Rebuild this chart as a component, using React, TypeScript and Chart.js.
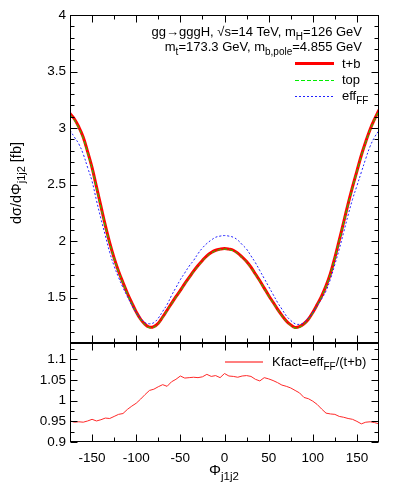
import React, { useEffect, useRef } from 'react';
import { Chart, registerables } from 'chart.js';

Chart.register(...registerables);

// ---------- data ----------
const PHI = [
  -175, -170, -165, -160, -155, -150, -145, -140, -135, -130, -125, -120, -115, -110, -105, -100,
  -95, -90, -85, -80, -75, -70, -65, -60, -55, -50, -45, -40, -35, -30, -25, -20, -15, -10, -5,
  0, 5, 10, 15, 20, 25, 30, 35, 40, 45, 50, 55, 60, 65, 70, 75, 80, 85, 90, 95, 100, 105, 110,
  115, 120, 125, 130, 135, 140, 145, 150, 155, 160, 165, 170, 175,
];

const T_PLUS_B = [
  3.13, 3.08, 3.01, 2.92, 2.79, 2.65, 2.48, 2.31, 2.14, 1.985, 1.85, 1.735, 1.635, 1.54, 1.455, 1.375,
  1.31, 1.265, 1.24, 1.245, 1.275, 1.33, 1.39, 1.45, 1.51, 1.565, 1.625, 1.68, 1.735, 1.785, 1.83,
  1.87, 1.9, 1.92, 1.93,
  1.935, 1.93, 1.92, 1.895, 1.86, 1.82, 1.77, 1.71, 1.65, 1.585, 1.52, 1.46, 1.4, 1.345, 1.295,
  1.26, 1.237, 1.245, 1.27, 1.31, 1.37, 1.44, 1.515, 1.605, 1.715, 1.855, 2.01, 2.17, 2.33, 2.48,
  2.62, 2.76, 2.88, 2.99, 3.08, 3.16,
];

const TOP_ONLY = [
  3.12, 3.07, 3.0, 2.91, 2.78, 2.64, 2.47, 2.3, 2.13, 1.98, 1.845, 1.73, 1.63, 1.535, 1.45,
  1.37, 1.305, 1.26, 1.235, 1.24, 1.27, 1.325, 1.385, 1.445, 1.505, 1.56, 1.62, 1.675, 1.73, 1.78,
  1.825, 1.865, 1.895, 1.915, 1.925,
  1.93, 1.925, 1.915, 1.89, 1.855, 1.815, 1.765, 1.705, 1.645, 1.58, 1.515, 1.455, 1.395, 1.34,
  1.29, 1.255, 1.232, 1.24, 1.265, 1.305, 1.365, 1.435, 1.51, 1.6, 1.71, 1.85, 2.005, 2.165, 2.325,
  2.475, 2.615, 2.755, 2.875, 2.985, 3.075, 3.155,
];

const EFF_FF = [
  2.98, 2.92, 2.86, 2.77, 2.65, 2.53, 2.36, 2.2, 2.05, 1.9, 1.78, 1.68, 1.59, 1.51, 1.435, 1.37,
  1.32, 1.28, 1.27, 1.28, 1.32, 1.38, 1.44, 1.52, 1.59, 1.66, 1.72, 1.78, 1.83, 1.89, 1.94, 1.98,
  2.01, 2.035, 2.045,
  2.05, 2.045, 2.035, 2.01, 1.97, 1.93, 1.87, 1.81, 1.74, 1.67, 1.6, 1.53, 1.46, 1.4, 1.34, 1.3,
  1.27, 1.265, 1.28, 1.32, 1.37, 1.43, 1.49, 1.56, 1.665, 1.795, 1.93, 2.08, 2.23, 2.37, 2.49, 2.61,
  2.73, 2.84, 2.92, 2.98,
];

const KFACT = [
  0.951, 0.948, 0.949, 0.948, 0.951, 0.955, 0.951, 0.954, 0.958, 0.957, 0.962, 0.967, 0.969, 0.979,
  0.987, 0.994, 1.004, 1.015, 1.025, 1.028, 1.034, 1.039, 1.035, 1.046, 1.052, 1.06, 1.055, 1.056,
  1.057, 1.056, 1.058, 1.064, 1.059, 1.061, 1.056,
  1.066, 1.06, 1.059, 1.057, 1.06, 1.061, 1.059, 1.052, 1.048, 1.056, 1.053, 1.049, 1.044, 1.038,
  1.035, 1.031, 1.025, 1.019, 1.008, 1.005, 0.999, 0.991, 0.98, 0.97, 0.968, 0.967, 0.962, 0.96,
  0.957, 0.955, 0.95, 0.944, 0.948, 0.949, 0.947, 0.944,
];

const X_RANGE = [-175, 175];
const X_TICKS = [-150, -100, -50, 0, 50, 100, 150];
const X_MINOR = [-125, -75, -25, 25, 75, 125];
const Y_TOP_RANGE = [1.1, 4];
const Y_TOP_TICKS = [1.5, 2, 2.5, 3, 3.5, 4];
const Y_TOP_MINOR = [1.2, 1.3, 1.4, 1.6, 1.7, 1.8, 1.9, 2.1, 2.2, 2.3, 2.4, 2.6, 2.7, 2.8, 2.9, 3.1, 3.2, 3.3, 3.4, 3.6, 3.7, 3.8, 3.9];
const Y_BOT_RANGE = [0.9, 1.14];
const Y_BOT_TICKS = [0.9, 0.95, 1, 1.05, 1.1];
const Y_BOT_MINOR = [0.925, 0.975, 1.025, 1.075, 1.125];

// ---------- text ----------
type Seg = { t: string; sub?: boolean };
const ANNOT_1: Seg[] = [{ t: 'gg→gggH, √s=14 TeV, m' }, { t: 'H', sub: true }, { t: '=126 GeV' }];
const ANNOT_2: Seg[] = [{ t: 'm' }, { t: 't', sub: true }, { t: '=173.3 GeV, m' }, { t: 'b,pole', sub: true }, { t: '=4.855 GeV' }];
const LEG_TB: Seg[] = [{ t: 't+b' }];
const LEG_TOP: Seg[] = [{ t: 'top' }];
const LEG_EFF: Seg[] = [{ t: 'eff' }, { t: 'FF', sub: true }];
const LEG_K: Seg[] = [{ t: 'Kfact=eff' }, { t: 'FF', sub: true }, { t: '/(t+b)' }];
const Y_TITLE: Seg[] = [{ t: 'dσ/dΦ' }, { t: 'j1j2', sub: true }, { t: ' [fb]' }];
const X_TITLE: Seg[] = [{ t: 'Φ' }, { t: 'j1j2', sub: true }];

const FAMILY = '"Liberation Sans", Arial, Helvetica, sans-serif';
const W = 398;
const H = 491;
const TOP_AREA_BOTTOM = 343;
const BOT_AREA_BOTTOM = 442;
const K_COLOR = '#ff0000';

const fnt = (s: number) => `${s}px ${FAMILY}`;

function drawRich(ctx: CanvasRenderingContext2D, segs: Seg[], x: number, y: number, align: 'left' | 'right' | 'center', size: number, subSize: number, subDy: number) {
  let w = 0;
  for (const s of segs) {
    ctx.font = fnt(s.sub ? subSize : size);
    w += ctx.measureText(s.t).width;
  }
  let cx = align === 'left' ? x : align === 'right' ? x - w : x - w / 2;
  ctx.textAlign = 'left';
  ctx.textBaseline = 'alphabetic';
  ctx.fillStyle = '#000';
  for (const s of segs) {
    ctx.font = fnt(s.sub ? subSize : size);
    ctx.fillText(s.t, cx, s.sub ? y + subDy : y);
    cx += ctx.measureText(s.t).width;
  }
}

function framePlugin(xMinor: number[], xMajor: number[], yMajor: number[], yMinor: number[]) {
  return {
    id: 'frameTicks',
    afterDatasetsDraw(chart: any) {
      const { ctx, chartArea: a, scales } = chart;
      ctx.save();
      ctx.strokeStyle = '#000';
      ctx.lineWidth = 1;
      ctx.setLineDash([]);
      const L = Math.round(a.left) + 0.5;
      const R = Math.round(a.right) - 0.5;
      const T = Math.round(a.top) + 0.5;
      const B = Math.round(a.bottom) - 0.5;
      ctx.strokeRect(L, T, R - L, B - T);
      ctx.beginPath();
      const xt = (v: number, len: number) => {
        const p = Math.round(scales.x.getPixelForValue(v)) + 0.5;
        ctx.moveTo(p, B); ctx.lineTo(p, B - len);
        ctx.moveTo(p, T); ctx.lineTo(p, T + len);
      };
      const yt = (v: number, len: number) => {
        const p = Math.round(scales.y.getPixelForValue(v)) + 0.5;
        ctx.moveTo(L, p); ctx.lineTo(L + len, p);
        ctx.moveTo(R, p); ctx.lineTo(R - len, p);
      };
      xMajor.forEach((v) => xt(v, 7));
      xMinor.forEach((v) => xt(v, 4));
      yMajor.forEach((v) => yt(v, 7));
      yMinor.forEach((v) => yt(v, 4));
      ctx.stroke();
      ctx.restore();
    },
  };
}

const topTextPlugin = {
  id: 'topText',
  afterDraw(chart: any) {
    const ctx: CanvasRenderingContext2D = chart.ctx;
    ctx.save();
    drawRich(ctx, ANNOT_1, 362, 36, 'right', 13, 10, 4);
    drawRich(ctx, ANNOT_2, 362, 51, 'right', 13, 10, 4);
    // legend
    const lx0 = 295, lx1 = 334, tx = 342;
    ctx.lineCap = 'butt';
    ctx.beginPath(); ctx.strokeStyle = '#ff0000'; ctx.lineWidth = 3; ctx.setLineDash([]);
    ctx.moveTo(lx0, 63.5); ctx.lineTo(lx1, 63.5); ctx.stroke();
    drawRich(ctx, LEG_TB, tx, 68, 'left', 13, 10, 4);
    ctx.beginPath(); ctx.strokeStyle = '#00ee00'; ctx.lineWidth = 1; ctx.setLineDash([4, 2]);
    ctx.moveTo(lx0, 80.5); ctx.lineTo(lx1, 80.5); ctx.stroke();
    drawRich(ctx, LEG_TOP, tx, 84, 'left', 13, 10, 4);
    ctx.beginPath(); ctx.strokeStyle = '#2020ff'; ctx.lineWidth = 1; ctx.setLineDash([2, 2]);
    ctx.moveTo(lx0, 96.5); ctx.lineTo(lx1, 96.5); ctx.stroke();
    ctx.setLineDash([]);
    drawRich(ctx, LEG_EFF, tx, 100, 'left', 13, 10, 4);
    // y title
    ctx.translate(21, 183);
    ctx.rotate(-Math.PI / 2);
    drawRich(ctx, Y_TITLE, 0, 0, 'center', 14.5, 11, 4);
    ctx.restore();
  },
};

const botTextPlugin = {
  id: 'botText',
  afterDraw(chart: any) {
    const ctx: CanvasRenderingContext2D = chart.ctx;
    ctx.save();
    ctx.beginPath();
    ctx.strokeStyle = K_COLOR;
    ctx.lineWidth = 1.2;
    ctx.setLineDash([]);
    ctx.moveTo(225, 362);
    ctx.lineTo(263, 362);
    ctx.stroke();
    drawRich(ctx, LEG_K, 272, 366, 'left', 13, 10, 4);
    drawRich(ctx, X_TITLE, 224, 475, 'center', 15, 11.5, 5);
    ctx.restore();
  },
};

const tickFont = { family: FAMILY, size: 13.5 };

function yScale(range: number[], ticks: number[]) {
  return {
    type: 'linear',
    min: range[0],
    max: range[1],
    afterBuildTicks: (s: any) => { s.ticks = ticks.map((v) => ({ value: v })); },
    afterFit: (s: any) => { s.width = 70; },
    ticks: { font: tickFont, color: '#000', padding: 4, callback: (v: any) => String(v) },
    grid: { display: false, drawTicks: false },
    border: { display: false },
  };
}

export default function App() {
  const topRef = useRef<HTMLCanvasElement>(null);
  const botRef = useRef<HTMLCanvasElement>(null);

  useEffect(() => {
    const pts = (ys: number[]) => PHI.map((x, i) => ({ x, y: ys[i] }));
    const top = new Chart(topRef.current!, {
      type: 'line',
      data: {
        datasets: [
          { label: 't+b', data: pts(T_PLUS_B), borderColor: '#ff0000', borderWidth: 3, pointRadius: 0, order: 3, tension: 0.4, fill: false },
          { label: 'top', data: pts(TOP_ONLY), borderColor: '#00ee00', borderWidth: 1, borderDash: [4, 2], pointRadius: 0, order: 2, tension: 0.4, fill: false },
          { label: 'eff_FF', data: pts(EFF_FF), borderColor: '#2020ff', borderWidth: 1, borderDash: [2, 2], pointRadius: 0, order: 1, tension: 0.4, fill: false },
        ],
      },
      options: {
        animation: false,
        responsive: false,
        events: [],
        layout: { padding: { left: 0, top: 15, right: W - 379, bottom: H - TOP_AREA_BOTTOM } },
        plugins: { legend: { display: false }, tooltip: { enabled: false } },
        scales: {
          x: { type: 'linear', display: false, min: X_RANGE[0], max: X_RANGE[1] },
          y: yScale(Y_TOP_RANGE, Y_TOP_TICKS),
        },
      } as any,
      plugins: [framePlugin(X_MINOR, X_TICKS, Y_TOP_TICKS, Y_TOP_MINOR), topTextPlugin],
    });

    const bot = new Chart(botRef.current!, {
      type: 'line',
      data: {
        datasets: [
          { label: 'Kfact', data: pts(KFACT), borderColor: 'rgb(255,40,40)', borderWidth: 1, pointRadius: 0, tension: 0, fill: false },
        ],
      },
      options: {
        animation: false,
        responsive: false,
        events: [],
        layout: { padding: { left: 0, top: TOP_AREA_BOTTOM, right: W - 379, bottom: 0 } },
        plugins: { legend: { display: false }, tooltip: { enabled: false } },
        scales: {
          x: {
            type: 'linear',
            min: X_RANGE[0],
            max: X_RANGE[1],
            afterBuildTicks: (s: any) => { s.ticks = X_TICKS.map((v) => ({ value: v })); },
            afterFit: (s: any) => { s.height = H - BOT_AREA_BOTTOM; },
            ticks: { font: tickFont, color: '#000', padding: 8, maxRotation: 0, autoSkip: false, callback: (v: any) => String(v) },
            grid: { display: false, drawTicks: false },
            border: { display: false },
          },
          y: yScale(Y_BOT_RANGE, Y_BOT_TICKS),
        },
      } as any,
      plugins: [framePlugin(X_MINOR, X_TICKS, Y_BOT_TICKS, Y_BOT_MINOR), botTextPlugin],
    });

    return () => {
      top.destroy();
      bot.destroy();
    };
  }, []);

  return (
    <div style={{ position: 'fixed', left: 0, top: 0, width: W, height: H, background: '#fff' }}>
      <canvas ref={topRef} width={W} height={H} style={{ position: 'absolute', left: 0, top: 0 }} />
      <canvas ref={botRef} width={W} height={H} style={{ position: 'absolute', left: 0, top: 0 }} />
    </div>
  );
}
